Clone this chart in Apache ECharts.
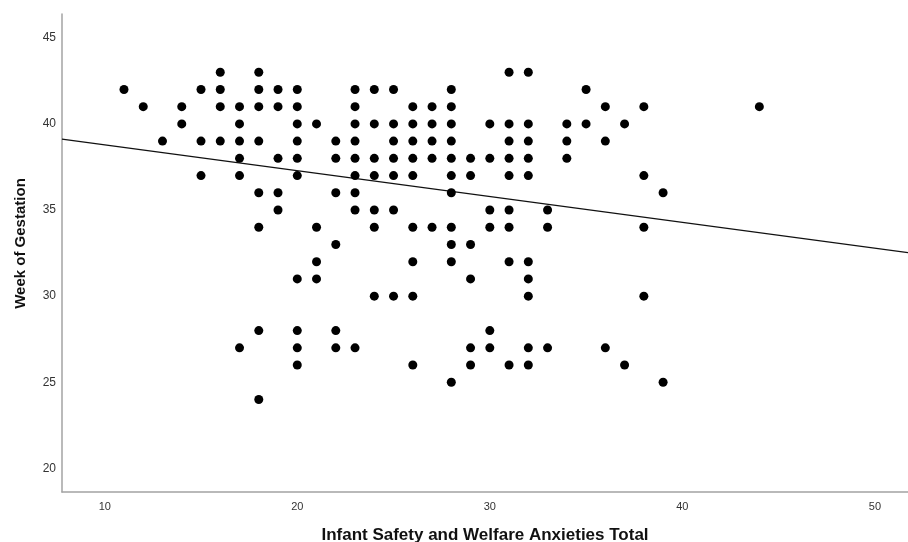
<!DOCTYPE html>
<html>
<head>
<meta charset="utf-8">
<script src="https://cdn.jsdelivr.net/npm/echarts@6/dist/echarts.min.js"></script>
<style>
html,body{margin:0;padding:0;background:#fff;}
#chart{width:908px;height:542px;}
</style>
</head>
<body>
<div id="chart"></div>
<script>
// Scores (x) and the weeks of gestation (y) observed at each score
var scores = [11,12,13,14,15,16,17,18,19,20,21,22,23,24,25,26,27,28,29,30,31,32,33,34,35,36,37,38,39,44];
var weeksByScore = [
  [42],
  [41],
  [39],
  [41,40],
  [42,39,37],
  [43,42,41,39],
  [41,40,39,38,37,27],
  [43,42,41,39,36,34,28,24],
  [42,41,38,36,35],
  [42,41,40,39,38,37,31,28,27,26],
  [40,34,32,31],
  [39,38,36,33,28,27],
  [42,41,40,39,38,37,36,35,27],
  [42,40,38,37,35,34,30],
  [42,40,39,38,37,35,30],
  [41,40,39,38,37,34,32,30,26],
  [41,40,39,38,34],
  [42,41,40,39,38,37,36,34,33,32,25],
  [38,37,33,31,27,26],
  [40,38,35,34,28,27],
  [43,40,39,38,37,35,34,32,26],
  [43,40,39,38,37,32,31,30,27,26],
  [35,34,27],
  [40,39,38],
  [42,40],
  [41,39,27],
  [40,26],
  [41,37,34,30],
  [36,25],
  [41]
];
var xTicks = [10,20,30,40,50];
var yTicks = [20,25,30,35,40,45];
var xRange = [7.78, 51.72];
var yRange = [18.63, 46.38];
// Fit line
var fitIntercept = 40.28;
var fitSlope = -0.150;

var points = [];
scores.forEach(function(s, i){
  weeksByScore[i].forEach(function(w){ points.push([s, w]); });
});
var fitLine = [
  [xRange[0], fitIntercept + fitSlope * xRange[0]],
  [xRange[1], fitIntercept + fitSlope * xRange[1]]
];

var chart = echarts.init(document.getElementById('chart'), null, {renderer:'canvas'});
var axisLine = {show:true, lineStyle:{color:'#a3a3a3', width:1.5}};
chart.setOption({
  animation:false,
  backgroundColor:'#ffffff',
  grid:{left:62, right:0, top:14, bottom:50, containLabel:false, outerBoundsMode:'none'},
  xAxis:{
    type:'value', min:xRange[0], max:xRange[1],
    name:'Infant Safety and Welfare Anxieties Total',
    nameLocation:'middle', nameGap:35,
    nameTextStyle:{fontFamily:'Liberation Sans', fontWeight:'bold', fontSize:17, color:'#111'},
    axisLine:axisLine,
    axisTick:{show:false},
    splitLine:{show:false},
    axisLabel:{customValues:xTicks, fontFamily:'Liberation Sans', fontSize:11, color:'#333', margin:9}
  },
  yAxis:{
    type:'value', min:yRange[0], max:yRange[1],
    name:'Week of Gestation',
    nameLocation:'middle', nameGap:34, nameRotate:90,
    nameTextStyle:{fontFamily:'Liberation Sans', fontWeight:'bold', fontSize:15, color:'#111', padding:[0,0,0,19]},
    axisLine:axisLine,
    axisTick:{show:false},
    splitLine:{show:false},
    axisLabel:{customValues:yTicks, fontFamily:'Liberation Sans', fontSize:12, color:'#333', margin:6}
  },
  series:[
    {
      type:'line', data:fitLine, symbol:'none', silent:true,
      lineStyle:{color:'#111', width:1.2}, z:1
    },
    {
      type:'scatter', data:points, symbol:'circle', symbolSize:9,
      itemStyle:{color:'#000', opacity:1}, z:2
    }
  ]
});
</script>
</body>
</html>
